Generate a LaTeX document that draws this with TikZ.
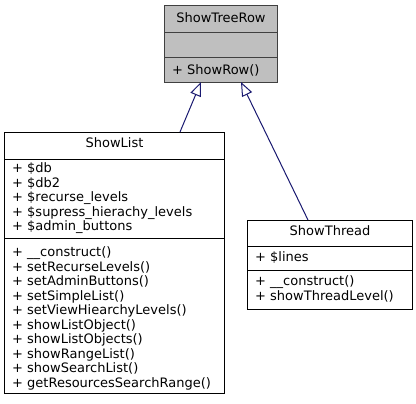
\documentclass[tikz,border=0pt]{standalone}
\usepackage{fontspec}
\setmainfont{DejaVu Sans}
\usetikzlibrary{arrows.meta}
\definecolor{edgeblue}{HTML}{191970}
\definecolor{grayfill}{HTML}{BFBFBF}
\definecolor{grayline}{HTML}{404040}
\tikzset{
  classbox/.style={draw=black, line width=1bp, fill=white, inner sep=0pt},
  curbox/.style={draw=grayline, line width=1bp, fill=grayfill, inner sep=0pt},
  title/.style={anchor=base, inner sep=0pt, font=\fontsize{13bp}{14.5bp}\selectfont},
  member/.style={anchor=base west, inner sep=0pt, font=\fontsize{13bp}{14.5bp}\selectfont},
  inherit/.style={draw=edgeblue, line width=1bp, -{Triangle[open, length=14bp, width=11bp]}}
}
\begin{document}
\begin{tikzpicture}[x=1bp,y=-1bp]
\useasboundingbox (0,0) rectangle (416,404);
% ShowTreeRow
\node[curbox, minimum width=112bp, minimum height=77bp] (tr) at (221,43.5) {};
\draw[grayline, line width=1bp] (165,32) -- (277,32);
\draw[grayline, line width=1bp] (165,57) -- (277,57);
\node[title] (trname) at (221,22) {ShowTreeRow};
\node[member] (trm) at (172,74.5) {+ ShowRow()};
% ShowList
\node[classbox, minimum width=219bp, minimum height=261bp] (sl) at (114.5,262.5) {};
\draw[line width=1bp] (5,159) -- (224,159);
\draw[line width=1bp] (5,238) -- (224,238);
\node[title] (slname) at (114.5,147) {ShowList};
\foreach \t [count=\i] in {+ \$db, + \$db2, + \$recurse\_levels, + \$supress\_hierachy\_levels, + \$admin\_buttons}
  \node[member] (sla\i) at (12,{158+14.5*\i}) {\t};
\foreach \t [count=\i] in {+ \_\_construct(), + setRecurseLevels(), + setAdminButtons(), + setSimpleList(), + setViewHiearchyLevels(), + showListObject(), + showListObjects(), + showRangeList(), + showSearchList(), + getResourcesSearchRange()}
  \node[member] (slm\i) at (12,{242+14.5*\i}) {\t};
% ShowThread
\node[classbox, minimum width=164bp, minimum height=89bp] (st) at (330,264.5) {};
\draw[line width=1bp] (248,246) -- (412,246);
\draw[line width=1bp] (248,270) -- (412,270);
\node[title] (stname) at (330,235.5) {ShowThread};
\node[member] (sta) at (255,261) {+ \$lines};
\node[member] (stm1) at (255,285.5) {+ \_\_construct()};
\node[member] (stm2) at (255,300) {+ showThreadLevel()};
% inheritance
\coordinate (slt) at (180,132);
\coordinate (trl) at (201,82);
\coordinate (stt) at (308,220);
\coordinate (trr) at (241,82);
\draw[inherit] (slt) -- (trl);
\draw[inherit] (stt) -- (trr);
\end{tikzpicture}
\end{document}
